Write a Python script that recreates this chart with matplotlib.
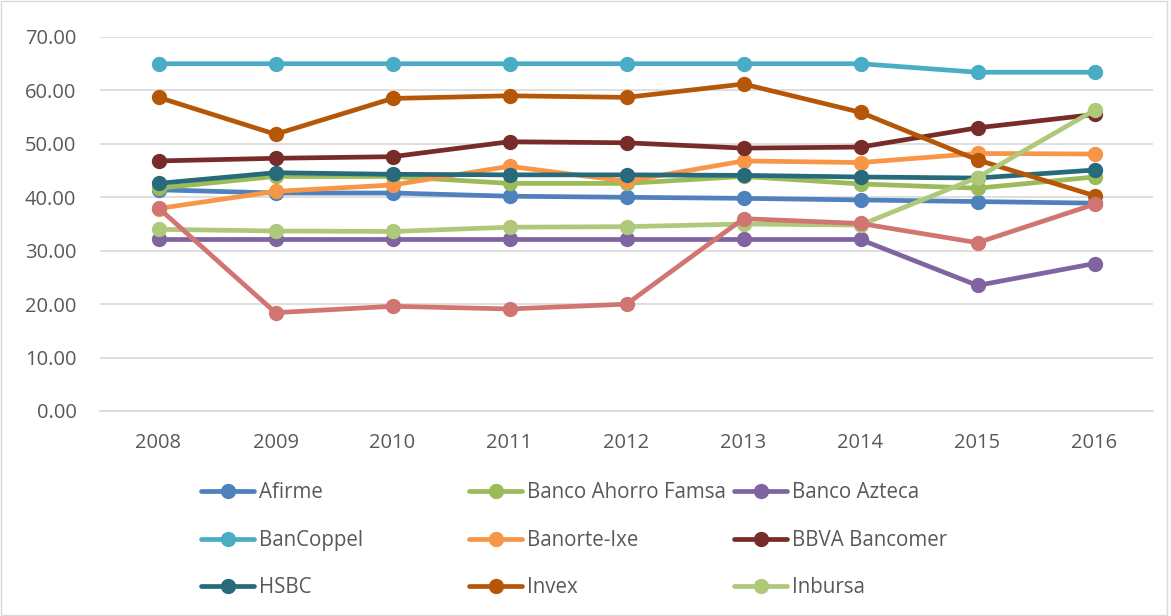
import matplotlib.pyplot as plt
from matplotlib.patches import Rectangle

years = ["2008", "2009", "2010", "2011", "2012", "2013", "2014", "2015", "2016"]

afirme = [41.4, 40.8, 40.8, 40.2, 40.0, 39.8, 39.5, 39.2, 38.9]
famsa = [41.7, 43.9, 43.9, 42.6, 42.6, 43.9, 42.5, 41.7, 43.8]
azteca = [32.1, 32.1, 32.1, 32.1, 32.1, 32.1, 32.1, 23.5, 27.6]
bancoppel = [65.0, 65.0, 65.0, 65.0, 65.0, 65.0, 65.0, 63.4, 63.4]
banorte = [37.9, 41.1, 42.3, 45.8, 43.0, 46.8, 46.5, 48.2, 48.1]
bbva = [46.8, 47.3, 47.6, 50.4, 50.2, 49.2, 49.4, 53.0, 55.5]
hsbc = [42.6, 44.6, 44.3, 44.2, 44.2, 44.1, 43.8, 43.6, 45.1]
invex = [58.7, 51.8, 58.5, 59.0, 58.7, 61.2, 55.9, 47.0, 40.3]
inbursa = [34.0, 33.7, 33.6, 34.4, 34.5, 35.0, 34.8, 43.7, 56.3]
other = [38.0, 18.4, 19.6, 19.1, 20.0, 36.0, 35.1, 31.5, 38.7]

series = [
    ("Afirme", afirme, "#4F81BD"),
    ("Banco Ahorro Famsa", famsa, "#9BBB59"),
    ("Banco Azteca", azteca, "#8064A2"),
    ("BanCoppel", bancoppel, "#4BACC6"),
    ("Banorte-Ixe", banorte, "#F79646"),
    ("BBVA Bancomer", bbva, "#772C2A"),
    ("HSBC", hsbc, "#276A7C"),
    ("Invex", invex, "#B65708"),
    ("Inbursa", inbursa, "#AFC97A"),
    ("_other", other, "#D07571"),
]

plt.rcParams["font.family"] = ["Open Sans", "DejaVu Sans"]
text_color = "#595959"

fig = plt.figure(figsize=(11.71, 6.16), dpi=100)
ax = fig.add_axes([100 / 1171, 1 - 411 / 616, 1053 / 1171, (411 - 37) / 616])

x = list(range(len(years)))
handles = {}
for name, vals, color in series:
    line, = ax.plot(x, vals, color=color, lw=3.4, marker="o", markersize=10,
                    solid_capstyle="round", solid_joinstyle="round")
    handles[name] = line

ax.set_xlim(-0.5, len(years) - 0.5)
ax.set_ylim(0, 70)
ax.set_yticks(range(0, 71, 10))
ax.set_yticklabels([f"{v:.2f}" for v in range(0, 71, 10)])
ax.set_xticks(x)
ax.set_xticklabels(years)
ax.tick_params(axis="both", length=0, labelsize=14.5, colors=text_color)
ax.tick_params(axis="y", pad=17)
ax.tick_params(axis="x", pad=16)
ax.grid(axis="y", color="#D9D9D9", lw=1.2)
ax.set_axisbelow(True)
for side in ["top", "right", "left"]:
    ax.spines[side].set_visible(False)
ax.spines["bottom"].set_color("#D9D9D9")
ax.spines["bottom"].set_linewidth(1.2)

# legend: three columns placed by hand, like Excel's equal-width columns
columns = [
    ["Afirme", "BanCoppel", "HSBC"],
    ["Banco Ahorro Famsa", "Banorte-Ixe", "Invex"],
    ["Banco Azteca", "BBVA Bancomer", "Inbursa"],
]
col_x = [201, 469, 734]
for names, cx in zip(columns, col_x):
    fig.legend([handles[n] for n in names], names, loc="upper left",
               bbox_to_anchor=(cx / 1171, 1 - 482 / 616), frameon=False,
               fontsize=14.8, labelcolor=text_color, handlelength=2.6,
               handletextpad=0.2, labelspacing=1.3, borderpad=0, borderaxespad=0)

fig.add_artist(Rectangle((0.001, 0.001), 0.996, 0.997, transform=fig.transFigure,
                         fill=False, edgecolor="#D9D9D9", lw=1))

fig.savefig("out.png", dpi=100)
